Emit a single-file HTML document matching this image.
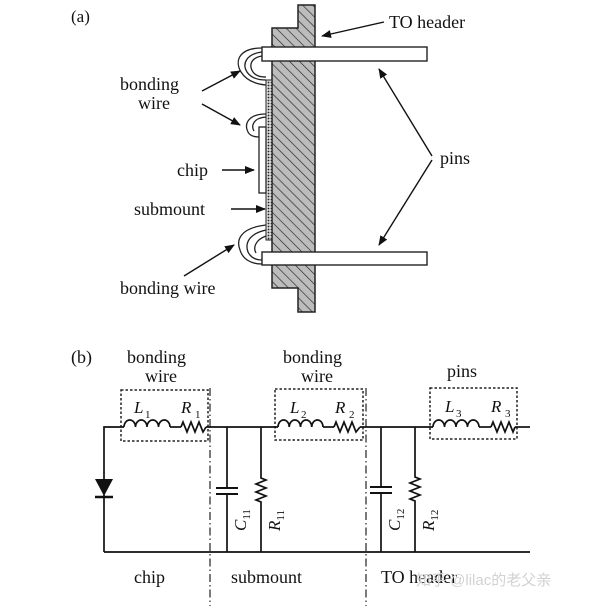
<!DOCTYPE html>
<html><head><meta charset="utf-8">
<style>
html,body{margin:0;padding:0;background:#fff;}
svg{display:block;}
text{font-family:"Liberation Serif","Noto Serif CJK SC",serif;fill:#111;}
</style></head>
<body>
<svg width="600" height="608" viewBox="0 0 600 608" xmlns="http://www.w3.org/2000/svg">
<defs>
<pattern id="hatch" patternUnits="userSpaceOnUse" width="7" height="7" patternTransform="rotate(-45)">
<rect width="7" height="7" fill="#bcbcbc"/>
<line x1="0" y1="0" x2="0" y2="7" stroke="#222" stroke-width="1.3"/>
</pattern>
<pattern id="dots" patternUnits="userSpaceOnUse" width="3" height="3">
<rect width="3" height="3" fill="#ddd"/>
<circle cx="1.5" cy="1.5" r="0.9" fill="#222"/>
</pattern>
<marker id="ah" markerWidth="10" markerHeight="8" refX="9" refY="4" orient="auto" markerUnits="userSpaceOnUse">
<path d="M0,0 L10,4 L0,8 Z" fill="#111"/>
</marker>
</defs>

<!-- (a) -->
<text x="71" y="22" font-size="17">(a)</text>
<path d="M298,5 H315 V312 H298 V288 H272 V28 H298 Z" fill="url(#hatch)" stroke="#222" stroke-width="1.5"/>
<rect x="262" y="47" width="165" height="14" fill="#fff" stroke="#222" stroke-width="1.4"/>
<rect x="262" y="252" width="165" height="13" fill="#fff" stroke="#222" stroke-width="1.4"/>
<rect x="266" y="80" width="6" height="160" fill="url(#dots)" stroke="#222" stroke-width="1"/>
<rect x="259" y="127" width="7" height="66" fill="#fff" stroke="#222" stroke-width="1.3"/>
<!-- bonding wires -->
<g fill="none" stroke="#222" stroke-width="1.3">
<path d="M262,48 C240,48 234,60 241,72 C246,80 255,84 266,85"/>
<path d="M262,52 C246,54 242,64 247,72 C251,78 258,80 266,80"/>
<path d="M262,56 C250,58 249,66 253,72 C256,76 260,77 266,77"/>
<path d="M266,114 C248,114 244,124 248,132 C250,136 255,137 259,137"/>
<path d="M266,117 C253,118 251,126 254,131"/>
<path d="M266,225 C240,228 236,240 240,250 C243,260 252,264 262,264"/>
<path d="M266,230 C248,234 245,244 248,252 C251,258 256,260 262,260"/>
<path d="M266,236 C255,240 253,248 256,253"/>
</g>
<!-- labels & arrows -->
<g font-size="18">
<text x="389" y="28">TO header</text>
<text x="120" y="90">bonding</text>
<text x="138" y="109">wire</text>
<text x="177" y="176">chip</text>
<text x="134" y="215">submount</text>
<text x="120" y="294">bonding wire</text>
<text x="440" y="164">pins</text>
</g>
<g stroke="#111" stroke-width="1.4" fill="none" marker-end="url(#ah)">
<line x1="384" y1="22" x2="322" y2="36"/>
<line x1="202" y1="91" x2="240" y2="71"/>
<line x1="202" y1="104" x2="240" y2="125"/>
<line x1="222" y1="170" x2="254" y2="170"/>
<line x1="231" y1="209" x2="265" y2="209"/>
<line x1="184" y1="276" x2="234" y2="245"/>
<line x1="432" y1="156" x2="379" y2="69"/>
<line x1="432" y1="160" x2="379" y2="245"/>
</g>

<!-- (b) -->
<g font-size="18">
<text x="71" y="363">(b)</text>
<text x="127" y="363">bonding</text>
<text x="145" y="382">wire</text>
<text x="283" y="363">bonding</text>
<text x="301" y="382">wire</text>
<text x="447" y="377">pins</text>
<text x="134" y="583">chip</text>
<text x="231" y="583">submount</text>
<text x="381" y="583">TO header</text>
</g>
<!-- dash-dot dividers -->
<g stroke="#222" stroke-width="1.2" stroke-dasharray="8,3,1.5,3">
<line x1="210" y1="388" x2="210" y2="606"/>
<line x1="366" y1="388" x2="366" y2="606"/>
</g>
<!-- dashed boxes -->
<g fill="none" stroke="#222" stroke-width="1.5" stroke-dasharray="2.5,2">
<rect x="121" y="390" width="87" height="51"/>
<rect x="275" y="389" width="88" height="51"/>
<rect x="430" y="388" width="87" height="51"/>
</g>
<g fill="none" stroke="#111" stroke-width="1.7">
<path d="M104,552 V427 H124"/>
<path d="M170,427 H181"/>
<path d="M206,427 H278"/>
<path d="M323,427 H334"/>
<path d="M360,427 H433"/>
<path d="M479,427 H491"/>
<path d="M515,427 H530"/>
<path d="M104,552 H530"/>
<path d="M124,427 a5.75,7 0 0 1 11.5,0 a5.75,7 0 0 1 11.5,0 a5.75,7 0 0 1 11.5,0 a5.75,7 0 0 1 11.5,0"/>
<path d="M278,427 a5.6,7 0 0 1 11.25,0 a5.6,7 0 0 1 11.25,0 a5.6,7 0 0 1 11.25,0 a5.6,7 0 0 1 11.25,0"/>
<path d="M433,427 a5.75,7 0 0 1 11.5,0 a5.75,7 0 0 1 11.5,0 a5.75,7 0 0 1 11.5,0 a5.75,7 0 0 1 11.5,0"/>
<path d="M181,427 l2,-5 l4,10 l4,-10 l4,10 l4,-10 l4,10 l3,-5"/>
<path d="M334,427 l2,-5 l4,10 l4,-10 l4,10 l4,-10 l4,10 l4,-5"/>
<path d="M491,427 l2,-5 l4,10 l4,-10 l4,10 l4,-10 l4,10 l2,-5"/>
<path d="M227,427 V488 M227,494 V552"/>
<path d="M216,488 H238 M216,494 H238" stroke-width="2"/>
<path d="M261,427 V478 l5,2 l-10,4 l10,4 l-10,4 l10,4 l-10,4 l5,2 V552"/>
<path d="M381,427 V487 M381,493 V552"/>
<path d="M370,487 H392 M370,493 H392" stroke-width="2"/>
<path d="M415,427 V477 l5,2 l-10,4 l10,4 l-10,4 l10,4 l-10,4 l5,2 V552"/>
<path d="M95,497 H113" stroke-width="2.5"/>
</g>
<path d="M95,479 H113 L104,496 Z" fill="#111"/>
<g font-size="17" font-style="italic">
<text x="134" y="413">L</text><text x="145" y="418" font-size="11" font-style="normal">1</text>
<text x="181" y="413">R</text><text x="195" y="418" font-size="11" font-style="normal">1</text>
<text x="290" y="413">L</text><text x="301" y="418" font-size="11" font-style="normal">2</text>
<text x="335" y="413">R</text><text x="349" y="418" font-size="11" font-style="normal">2</text>
<text x="445" y="412">L</text><text x="456" y="417" font-size="11" font-style="normal">3</text>
<text x="491" y="412">R</text><text x="505" y="417" font-size="11" font-style="normal">3</text>
</g>
<g font-size="17" font-style="italic">
<text transform="translate(246,531) rotate(-90)">C<tspan font-size="11" font-style="normal" dy="4">11</tspan></text>
<text transform="translate(280,531) rotate(-90)">R<tspan font-size="11" font-style="normal" dy="4">11</tspan></text>
<text transform="translate(400,531) rotate(-90)">C<tspan font-size="11" font-style="normal" dy="4">12</tspan></text>
<text transform="translate(434,531) rotate(-90)">R<tspan font-size="11" font-style="normal" dy="4">12</tspan></text>
</g>
<text x="416" y="585" font-size="15" style="fill:#d2d2d2;font-family:'Liberation Sans','Noto Sans CJK SC',sans-serif">知乎 @lilac的老父亲</text>
</svg>
</body></html>
